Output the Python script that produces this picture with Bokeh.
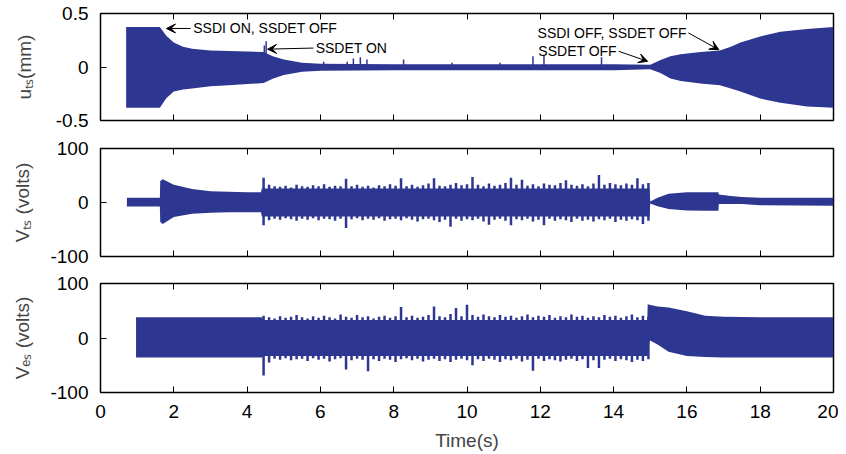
from bokeh.plotting import figure
from bokeh.models import Range1d, FixedTicker, LinearAxis, Arrow, VeeHead, Label
from bokeh.layouts import column
from bokeh.embed import file_html
from bokeh.resources import INLINE

# ---------------- data ----------------
time_ticks = [0, 2, 4, 6, 8, 10, 12, 14, 16, 18, 20]
u_ticks = [-0.5, 0, 0.5]
v_ticks = [-100, 0, 100]

# Panel 1: tip displacement u_ts (mm), envelope of the oscillation
u_t = [0.70, 1.62, 1.80, 2.00, 2.25, 2.50, 3.00, 3.50, 4.00, 4.45, 4.70, 5.00, 5.50, 6.00, 8.00,
       10.00, 12.00, 14.00, 15.00, 15.28, 15.55, 15.83, 16.37, 16.90, 17.20, 17.46, 18.00, 18.55, 19.28, 20.00]
u_hi = [0.375, 0.375, 0.29, 0.23, 0.19, 0.17, 0.155, 0.15, 0.145, 0.14, 0.10, 0.07, 0.04, 0.03, 0.025,
        0.025, 0.025, 0.025, 0.02, 0.065, 0.10, 0.12, 0.14, 0.155, 0.19, 0.23, 0.285, 0.33, 0.355, 0.375]
u_lo = [-0.38, -0.38, -0.29, -0.23, -0.21, -0.20, -0.18, -0.17, -0.16, -0.15, -0.11, -0.075, -0.045, -0.035, -0.03,
        -0.03, -0.03, -0.03, -0.02, -0.055, -0.107, -0.13, -0.155, -0.17, -0.20, -0.23, -0.295, -0.335, -0.37, -0.38]
u_spike_t = [4.47, 4.52, 6.09, 6.73, 6.90, 7.09, 7.27, 8.27, 9.59, 10.90, 11.80, 12.10, 13.67]
u_spike_v = [0.20, 0.24, 0.05, 0.05, 0.08, 0.09, 0.07, 0.07, 0.04, 0.04, 0.10, 0.11, 0.09]

# Panel 2: V_ts (volts), envelope
vts_t = [0.72, 1.62, 1.63, 1.70, 2.00, 2.50, 3.00, 3.50, 4.00, 4.38, 4.40, 14.98, 15.00, 15.20,
         15.50, 16.00, 16.50, 16.86, 16.87, 17.20, 17.50, 18.00, 19.00, 20.00]
vts_hi = [9, 9, 40, 43, 33, 25, 21, 20, 19, 19, 26, 26, 2, 9, 16, 19, 19, 19, 15, 12, 10, 9, 9, 9]
vts_lo = [-7.5, -7.5, -36, -40, -27, -21, -19, -18, -18, -18, -26, -26, -2, -7, -12, -15, -15.5, -15.5,
          -3, -3, -3, -5, -5.5, -6]

# Panel 3: V_es (volts), envelope
ves_t = [0.97, 4.40, 4.45, 14.92, 14.93, 14.98, 15.20, 15.50, 16.00, 16.50, 17.00, 18.00, 20.00]
ves_hi = [38, 38, 33, 33, 62, 61, 58, 56, 49, 41, 39, 38, 38]
ves_lo = [-36, -36, -33, -33, -33, -4, -12, -25, -33, -35, -36, -36, -36]

# Spiky (SSDET active) interval: peak values of V_ts and V_es at read-off times
noisy_t = [4.45, 4.60, 4.75, 4.90, 5.05, 5.20, 5.35, 5.50, 5.65, 5.80,
           5.95, 6.10, 6.25, 6.40, 6.55, 6.70, 6.85, 7.00, 7.15, 7.30,
           7.45, 7.60, 7.75, 7.90, 8.05, 8.20, 8.35, 8.50, 8.65, 8.80,
           8.95, 9.10, 9.25, 9.40, 9.55, 9.70, 9.85, 10.00, 10.15, 10.30,
           10.45, 10.60, 10.75, 10.90, 11.05, 11.20, 11.35, 11.50, 11.65, 11.80,
           11.95, 12.10, 12.25, 12.40, 12.55, 12.70, 12.85, 13.00, 13.15, 13.30,
           13.45, 13.60, 13.75, 13.90, 14.05, 14.20, 14.35, 14.50, 14.65, 14.80,
           14.95]
vts_pk_hi = [46, 33, 30, 29, 31, 28, 33, 30, 29, 32,
             30, 34, 29, 31, 30, 44, 30, 33, 29, 31,
             28, 32, 30, 34, 31, 45, 30, 33, 29, 32,
             35, 45, 31, 30, 33, 36, 32, 34, 47, 33,
             30, 35, 31, 33, 36, 46, 33, 42, 31, 34,
             30, 35, 33, 32, 36, 41, 33, 31, 34, 30,
             35, 51, 33, 36, 34, 32, 35, 33, 45, 34,
             36]
vts_pk_lo = [-42, -33, -30, -32, -29, -31, -34, -30, -32, -29,
             -33, -30, -31, -34, -30, -47, -31, -29, -33, -30,
             -32, -29, -34, -31, -30, -33, -29, -32, -35, -31,
             -30, -33, -36, -32, -45, -30, -34, -31, -33, -30,
             -35, -41, -32, -30, -34, -42, -31, -33, -30, -35,
             -32, -42, -30, -34, -31, -33, -36, -30, -34, -32,
             -35, -31, -33, -30, -36, -32, -34, -31, -33, -40,
             -34]
ves_pk_hi = [41, 38, 36, 40, 37, 39, 42, 38, 36, 40,
             37, 41, 38, 36, 43, 39, 37, 42, 38, 40,
             36, 39, 41, 37, 40, 57, 38, 41, 37, 39,
             42, 58, 40, 38, 44, 55, 40, 61, 42, 39,
             43, 40, 38, 42, 39, 41, 37, 40, 43, 38,
             41, 39, 42, 37, 40, 38, 43, 39, 41, 37,
             40, 38, 42, 39, 41, 37, 40, 43, 38, 41,
             39]
ves_pk_lo = [-69, -45, -38, -40, -37, -41, -39, -38, -42, -37,
             -40, -38, -43, -39, -37, -58, -41, -38, -40, -61,
             -39, -42, -38, -40, -44, -39, -37, -41, -38, -43,
             -40, -38, -42, -39, -44, -40, -38, -41, -50, -39,
             -42, -38, -40, -44, -39, -41, -38, -43, -40, -60,
             -38, -42, -39, -41, -43, -40, -38, -42, -39, -55,
             -41, -55, -40, -38, -42, -39, -41, -44, -40, -42,
             -39]

# ---------------- styling ----------------
BLUE = "#2D3691"
FONT = "Liberation Sans"
TICK_FS = "19px"


def hide_labels(ax):
    ax.major_label_overrides = {t: "" for t in time_ticks}
    ax.major_label_text_font_size = "1px"
    ax.major_label_standoff = 0


def make_fig(height, yr, yticks, ylabels, btop, bbottom, ylabel, lab_standoff, show_x_labels):
    p = figure(width=838, height=height, x_range=Range1d(0, 20), y_range=Range1d(*yr),
               output_backend="svg", toolbar_location=None,
               min_border_left=100, min_border_right=5,
               min_border_top=btop, min_border_bottom=bbottom)
    p.grid.visible = False
    p.outline_line_color = "black"
    p.outline_line_width = 1.5
    p.background_fill_color = "white"
    p.border_fill_color = "white"

    top = LinearAxis()
    p.add_layout(top, "above")
    for ax in p.xaxis:
        ax.ticker = FixedTicker(ticks=time_ticks)
        ax.major_tick_in = 6
        ax.major_tick_out = 0
        ax.minor_tick_line_color = None
        ax.axis_line_color = "black"
        ax.major_tick_line_color = "black"
        ax.major_label_text_font = FONT
        ax.major_label_text_color = "black"
    hide_labels(top)
    bot = p.below[0]
    if show_x_labels:
        bot.major_label_text_font_size = TICK_FS
        bot.major_label_standoff = 12
        bot.axis_label = "Time(s)"
        bot.axis_label_text_font = FONT
        bot.axis_label_text_font_size = TICK_FS
        bot.axis_label_text_font_style = "normal"
        bot.axis_label_standoff = 9
    else:
        hide_labels(bot)

    ya = p.yaxis[0]
    ya.ticker = FixedTicker(ticks=yticks)
    ya.major_label_overrides = dict(zip(yticks, ylabels))
    ya.major_tick_in = 6
    ya.major_tick_out = 0
    ya.minor_tick_line_color = None
    ya.axis_line_color = "black"
    ya.major_label_text_font = FONT
    ya.major_label_text_font_size = TICK_FS
    ya.major_label_text_color = "black"
    ya.major_label_standoff = 12
    ya.axis_label = ylabel
    ya.axis_label_text_font = FONT
    ya.axis_label_text_font_size = TICK_FS
    ya.axis_label_text_font_style = "normal"
    ya.axis_label_standoff = lab_standoff
    return p


# ---- panel 1 ----
p1 = make_fig(135, (-0.5, 0.5), u_ticks, ["-0.5", "0", "0.5"], 13, 15, "u\u209c\u209b(mm)", 18, False)
p1.varea(x=u_t, y1=u_lo, y2=u_hi, fill_color=BLUE)
p1.segment(x0=u_spike_t, y0=0, x1=u_spike_t, y1=u_spike_v, line_color=BLUE, line_width=1.5)

ann_font = dict(text_font=FONT, text_font_size="14px", text_baseline="middle", text_color="black")
p1.add_layout(Label(x=2.53, y=0.36, text="SSDI ON, SSDET OFF", text_align="left", **ann_font))
p1.add_layout(Arrow(end=VeeHead(size=9, fill_color="black", line_color="black"),
                    x_start=2.46, y_start=0.36, x_end=1.80, y_end=0.36, line_width=1))
p1.add_layout(Label(x=5.87, y=0.177, text="SSDET ON", text_align="left", **ann_font))
p1.add_layout(Arrow(end=VeeHead(size=9, fill_color="black", line_color="black"),
                    x_start=5.81, y_start=0.177, x_end=4.56, y_end=0.167, line_width=1))
p1.add_layout(Label(x=16.0, y=0.319, text="SSDI OFF, SSDET OFF", text_align="right", **ann_font))
p1.add_layout(Arrow(end=VeeHead(size=9, fill_color="black", line_color="black"),
                    x_start=16.04, y_start=0.319, x_end=16.87, y_end=0.162, line_width=1))
p1.add_layout(Label(x=14.09, y=0.147, text="SSDET OFF", text_align="right", **ann_font))
p1.add_layout(Arrow(end=VeeHead(size=9, fill_color="black", line_color="black"),
                    x_start=14.14, y_start=0.147, x_end=14.93, y_end=0.053, line_width=1))

# ---- panel 2 ----
p2 = make_fig(134, (-100, 100), v_ticks, ["-100", "0", "100"], 13, 13, "V\u209c\u209b (volts)", 14, False)
p2.varea(x=vts_t, y1=vts_lo, y2=vts_hi, fill_color=BLUE)
p2.segment(x0=noisy_t, y0=vts_pk_lo, x1=noisy_t, y1=vts_pk_hi, line_color=BLUE, line_width=2.5)

# ---- panel 3 ----
p3 = make_fig(184, (-100, 100), v_ticks, ["-100", "0", "100"], 14, 61, "V\u2091\u209b (volts)", 14, True)
p3.varea(x=ves_t, y1=ves_lo, y2=ves_hi, fill_color=BLUE)
p3.segment(x0=noisy_t, y0=ves_pk_lo, x1=noisy_t, y1=ves_pk_hi, line_color=BLUE, line_width=2.5)

layout = column(p1, p2, p3, spacing=0)
open("out.html", "w").write(file_html(layout, INLINE))
